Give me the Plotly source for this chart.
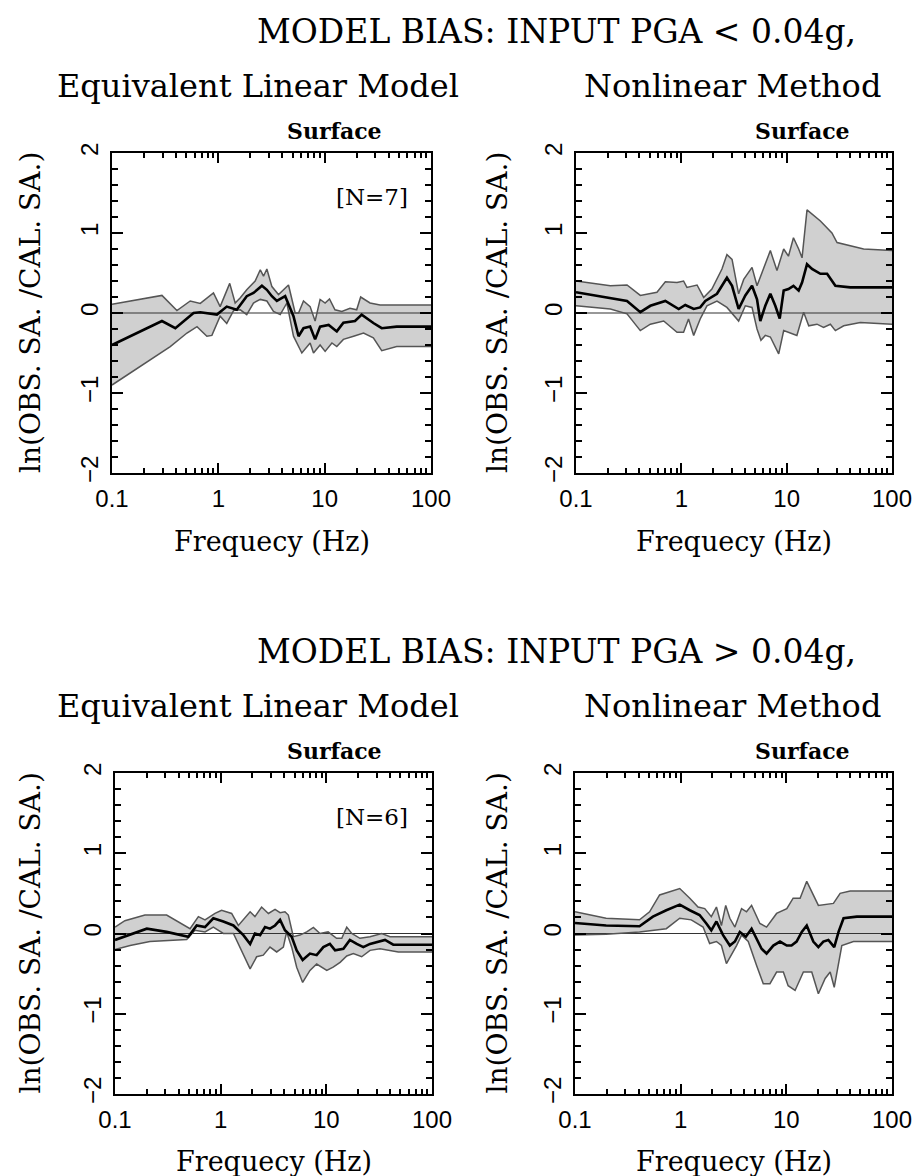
import plotly.graph_objects as go

W, H = 920, 1176

# ---------------- data: ln(obs SA / calc SA) vs frequency (Hz) ----------------
# Equivalent linear model, input PGA < 0.04g
eq_low_mean_f = [0.1, 0.295, 0.394, 0.585, 0.676, 0.97, 1.20, 1.49, 1.85, 2.14, 2.57, 2.86, 3.19, 3.55, 4.25,
                 5.09, 5.68, 6.32, 7.30, 8.13, 9.06, 10.9, 13.0, 15.0, 19.3, 22.3, 28.7, 34.4, 47.6, 100]
eq_low_mean = [-0.40, -0.10, -0.19, 0.0, 0.01, -0.02, 0.08, 0.04, 0.21, 0.25, 0.34, 0.29, 0.21, 0.15, 0.21,
               -0.04, -0.29, -0.19, -0.17, -0.33, -0.17, -0.15, -0.23, -0.12, -0.10, -0.02, -0.125, -0.19, -0.17, -0.17]
eq_low_up_f = [0.1, 0.295, 0.408, 0.544, 0.676, 0.90, 1.04, 1.28, 1.44, 1.61, 1.85, 2.22, 2.48, 2.66, 2.86, 3.19,
               3.68, 4.57, 5.28, 5.68, 6.32, 7.30, 8.13, 9.06, 10.1, 11.1, 12.5, 14.5, 17.3, 20.0, 21.8, 26.7, 33.2, 100]
eq_low_up = [0.11, 0.22, 0.03, 0.15, 0.12, 0.25, 0.08, 0.37, 0.125, 0.19, 0.29, 0.40, 0.54, 0.46, 0.55, 0.33,
             0.23, 0.35, 0.0, 0.0, 0.15, 0.08, -0.10, 0.17, 0.125, 0.175, 0.04, 0.02, 0.06, 0.04, 0.20, 0.125, 0.10, 0.10]
eq_low_lo_f = [0.1, 0.185, 0.353, 0.507, 0.63, 0.78, 0.87, 1.04, 1.20, 1.39, 1.61, 1.85, 2.14, 2.48, 2.86, 3.30,
               3.82, 4.41, 5.09, 6.10, 7.30, 7.85, 9.06, 10.1, 11.7, 13.0, 15.0, 18.7, 23.2, 28.7, 34.4, 47.6, 100]
eq_low_lo = [-0.90, -0.67, -0.42, -0.25, -0.17, -0.29, -0.28, -0.04, -0.13, 0.03, 0.04, -0.02, 0.125, 0.17, 0.15, 0.02,
             -0.02, 0.125, -0.29, -0.50, -0.375, -0.50, -0.40, -0.48, -0.375, -0.42, -0.33, -0.29, -0.25, -0.31, -0.47, -0.42, -0.42]

# Nonlinear method, input PGA < 0.04g
nl_low_mean_f = [0.1, 0.305, 0.408, 0.508, 0.705, 0.944, 1.09, 1.31, 1.51, 1.69, 2.18, 2.71, 3.03, 3.50, 4.05, 4.69,
                 5.23, 5.62, 6.27, 7.00, 7.80, 8.59, 9.37, 10.4, 11.6, 13.0, 14.0, 15.6, 17.4, 20.9, 24.2, 29.0, 40.2, 100]
nl_low_mean = [0.26, 0.15, 0.01, 0.09, 0.15, 0.05, 0.10, 0.05, 0.07, 0.15, 0.24, 0.44, 0.34, 0.05, 0.22, 0.34,
               0.17, -0.10, 0.09, 0.24, 0.09, -0.07, 0.28, 0.30, 0.34, 0.28, 0.38, 0.61, 0.55, 0.49, 0.49, 0.34, 0.32, 0.32]
nl_low_up_f = [0.1, 0.212, 0.305, 0.408, 0.587, 0.705, 0.91, 1.05, 1.13, 1.41, 1.63, 1.95, 2.43, 2.71, 3.03, 3.50,
               3.91, 4.69, 5.23, 5.83, 7.00, 8.09, 9.37, 10.4, 11.6, 13.0, 14.0, 15.6, 20.9, 26.9, 30.1, 53.8, 100]
nl_low_up = [0.40, 0.34, 0.35, 0.22, 0.26, 0.39, 0.38, 0.40, 0.32, 0.35, 0.195, 0.30, 0.55, 0.73, 0.67, 0.24,
             0.42, 0.57, 0.34, 0.51, 0.78, 0.53, 0.80, 0.71, 0.94, 0.80, 0.69, 1.29, 1.15, 1.00, 0.88, 0.80, 0.78]
nl_low_lo_f = [0.1, 0.212, 0.305, 0.408, 0.508, 0.68, 0.91, 1.05, 1.17, 1.31, 1.51, 1.75, 2.18, 2.71, 3.50, 4.05,
               4.69, 5.23, 5.70, 6.27, 7.00, 8.40, 9.37, 10.4, 12.5, 14.5, 16.2, 19.4, 22.4, 26.0, 29.0, 34.8, 50.0, 100]
nl_low_lo = [0.09, 0.05, -0.01, -0.22, -0.14, -0.10, -0.24, -0.24, -0.075, -0.28, -0.075, 0.09, 0.15, 0.07, -0.10, 0.09,
             0.07, -0.20, -0.34, -0.28, -0.30, -0.51, -0.22, -0.24, -0.28, 0.01, -0.16, -0.14, -0.18, -0.14, -0.22, -0.16, -0.12, -0.14]

# Equivalent linear model, input PGA > 0.04g
eq_high_mean_f = [0.1, 0.20, 0.308, 0.494, 0.593, 0.711, 0.852, 1.06, 1.32, 1.64, 1.90, 2.11, 2.36, 2.63, 2.93, 3.27,
                  3.65, 4.06, 4.70, 5.24, 5.97, 7.00, 8.10, 9.37, 10.8, 12.1, 14.5, 16.7, 19.4, 22.4, 25.9, 31.0, 35.9, 43.0, 100]
eq_high_mean = [-0.08, 0.06, 0.02, -0.04, 0.10, 0.08, 0.19, 0.15, 0.10, -0.02, -0.13, 0.0, -0.02, 0.08, 0.06, 0.10,
                0.17, 0.04, -0.04, -0.21, -0.33, -0.25, -0.27, -0.17, -0.13, -0.21, -0.19, -0.08, -0.13, -0.17, -0.13, -0.10, -0.08, -0.14, -0.14]
eq_high_up_f = [0.1, 0.124, 0.192, 0.308, 0.513, 0.615, 0.711, 0.884, 1.02, 1.27, 1.47, 1.64, 1.90, 2.11, 2.44, 2.83,
                3.27, 3.65, 4.06, 4.37, 4.87, 5.63, 6.52, 7.54, 8.71, 10.4, 12.5, 14.0, 15.6, 17.4, 20.8, 25.9, 33.4, 40.1, 100]
eq_high_up = [0.08, 0.16, 0.23, 0.23, 0.06, 0.21, 0.17, 0.25, 0.29, 0.25, 0.10, 0.17, 0.27, 0.21, 0.33, 0.25,
              0.30, 0.26, 0.27, 0.23, -0.04, -0.02, 0.02, 0.075, 0.0, 0.02, -0.06, -0.06, 0.08, 0.0, -0.06, -0.04, 0.0, -0.04, -0.04]
eq_high_lo_f = [0.1, 0.139, 0.214, 0.308, 0.477, 0.571, 0.711, 0.852, 1.06, 1.32, 1.58, 1.90, 2.19, 2.53, 2.93, 3.39,
                3.92, 4.21, 4.70, 5.24, 5.97, 7.00, 8.10, 10.1, 11.6, 13.5, 15.6, 18.0, 21.6, 25.9, 32.2, 40.1, 48.0, 100]
eq_high_lo = [-0.20, -0.15, -0.10, -0.09, -0.075, 0.04, 0.02, 0.08, 0.0, 0.0, -0.21, -0.44, -0.29, -0.27, -0.17, -0.23,
              -0.17, 0.02, -0.17, -0.42, -0.61, -0.46, -0.38, -0.46, -0.42, -0.36, -0.28, -0.25, -0.29, -0.21, -0.19, -0.21, -0.23, -0.23]

# Nonlinear method, input PGA > 0.04g
nl_high_mean_f = [0.1, 0.197, 0.408, 0.546, 0.731, 0.98, 1.22, 1.51, 1.75, 1.95, 2.18, 2.52, 2.92, 3.26, 3.63, 4.14,
                  4.69, 5.23, 5.83, 6.50, 7.53, 8.71, 10.1, 11.2, 12.5, 14.0, 15.6, 18.0, 20.1, 22.4, 25.0, 28.4, 31.2, 34.8, 46.5, 100]
nl_high_mean = [0.13, 0.10, 0.09, 0.21, 0.29, 0.36, 0.29, 0.23, 0.125, 0.04, 0.15, -0.02, -0.15, -0.10, 0.02, -0.04,
                0.06, -0.06, -0.19, -0.25, -0.15, -0.10, -0.15, -0.15, -0.10, 0.02, 0.10, -0.10, -0.17, -0.10, -0.08, -0.17, 0.02, 0.19, 0.21, 0.21]
nl_high_up_f = [0.1, 0.197, 0.408, 0.508, 0.632, 0.759, 0.98, 1.22, 1.46, 1.69, 1.95, 2.18, 2.43, 2.67, 2.92, 3.26,
                3.77, 4.20, 4.69, 5.62, 6.50, 8.09, 10.1, 11.6, 13.5, 15.6, 20.1, 27.9, 32.3, 40.2, 100]
nl_high_up = [0.27, 0.19, 0.17, 0.27, 0.48, 0.51, 0.56, 0.44, 0.33, 0.31, 0.21, 0.33, 0.10, 0.35, 0.19, 0.08,
              0.31, 0.27, 0.35, 0.125, 0.08, 0.25, 0.31, 0.44, 0.44, 0.65, 0.35, 0.375, 0.50, 0.53, 0.53]
nl_high_lo_f = [0.1, 0.197, 0.408, 0.546, 0.731, 0.98, 1.26, 1.63, 1.88, 2.18, 2.43, 2.71, 3.03, 3.38, 3.77, 4.36,
                5.23, 6.05, 7.00, 8.09, 9.37, 10.4, 12.1, 14.5, 17.4, 20.1, 23.3, 26.0, 28.4, 33.5, 43.2, 100]
nl_high_lo = [-0.02, -0.01, 0.02, 0.04, 0.06, 0.19, 0.17, 0.08, -0.125, -0.10, -0.15, -0.375, -0.27, -0.15, -0.02, -0.10,
              -0.40, -0.625, -0.625, -0.48, -0.48, -0.65, -0.71, -0.48, -0.48, -0.75, -0.56, -0.48, -0.67, -0.15, -0.10, -0.10]

# ---------------- text and ticks ----------------
group_titles = ["MODEL BIAS: INPUT PGA &lt; 0.04g,", "MODEL BIAS: INPUT PGA &gt; 0.04g,"]
method_titles = ["Equivalent Linear Model", "Nonlinear Method"]
site_label = "Surface"
count_labels = ["[N=7]", "[N=6]"]
x_title = "Frequecy (Hz)"
y_title = "ln(OBS. SA. /CAL. SA.)"

x_major = [0.1, 1, 10, 100]
x_major_text = ["0.1", "1", "10", "100"]
x_minor = [0.2, 0.3, 0.4, 0.5, 0.6, 0.7, 0.8, 0.9, 2, 3, 4, 5, 6, 7, 8, 9, 20, 30, 40, 50, 60, 70, 80, 90]
y_major = [-2, -1, 0, 1, 2]
y_major_text = ["\u22122", "\u22121", "0", "1", "2"]

# ---------------- layout helpers (pixel boxes -> paper fractions) ----------------
def fx(px):
    return px / W


def fy(py):
    return 1 - py / H


SERIF = "DejaVu Serif"
SANS = "Liberation Sans"

# (left, right, top, bottom) in pixels, one per panel
boxes = [(112, 431, 153, 473), (576, 892, 153, 473),
         (115, 432, 773, 1094), (575, 892, 773, 1094)]

panels = [
    (eq_low_mean_f, eq_low_mean, eq_low_up_f, eq_low_up, eq_low_lo_f, eq_low_lo),
    (nl_low_mean_f, nl_low_mean, nl_low_up_f, nl_low_up, nl_low_lo_f, nl_low_lo),
    (eq_high_mean_f, eq_high_mean, eq_high_up_f, eq_high_up, eq_high_lo_f, eq_high_lo),
    (nl_high_mean_f, nl_high_mean, nl_high_up_f, nl_high_up, nl_high_lo_f, nl_high_lo),
]

fig = go.Figure()
layout = dict(
    width=W, height=H, margin=dict(l=0, r=0, t=0, b=0, autoexpand=False),
    paper_bgcolor="white", plot_bgcolor="white", showlegend=False,
)

BAND_FILL = "#d0d0d0"
BAND_EDGE = "#555555"

for i, (data, box) in enumerate(zip(panels, boxes)):
    mf, mv, uf, uv, lf, lv = data
    sfx = "" if i == 0 else str(i + 1)
    xa, ya = "x" + sfx, "y" + sfx

    # shaded band between upper and lower bounds
    fig.add_trace(go.Scatter(x=uf + lf[::-1], y=uv + lv[::-1], xaxis=xa, yaxis=ya,
                             mode="lines", fill="toself", fillcolor=BAND_FILL,
                             line=dict(width=0, color="rgba(0,0,0,0)"), hoverinfo="skip"))
    # zero reference line
    fig.add_trace(go.Scatter(x=[x_major[0], x_major[-1]], y=[0, 0], xaxis=xa, yaxis=ya,
                             mode="lines", line=dict(color="#333333", width=1.2), hoverinfo="skip"))
    # band edges
    fig.add_trace(go.Scatter(x=uf, y=uv, xaxis=xa, yaxis=ya, mode="lines",
                             line=dict(color=BAND_EDGE, width=1.5)))
    fig.add_trace(go.Scatter(x=lf, y=lv, xaxis=xa, yaxis=ya, mode="lines",
                             line=dict(color=BAND_EDGE, width=1.5)))
    # mean bias
    fig.add_trace(go.Scatter(x=mf, y=mv, xaxis=xa, yaxis=ya, mode="lines",
                             line=dict(color="black", width=2.6)))

    l, r, t, b = box
    layout["xaxis" + sfx] = dict(
        domain=[fx(l), fx(r)], anchor=ya, type="log", range=[-1, 2], automargin=False,
        showline=True, linecolor="black", linewidth=2, mirror="ticks",
        ticks="inside", ticklen=10, tickwidth=1.5, tickcolor="black",
        tickmode="array", tickvals=x_major, ticktext=x_major_text,
        tickfont=dict(family=SANS, size=24, color="black"), ticklabelstandoff=3,
        showgrid=False, zeroline=False, fixedrange=True,
        minor=dict(ticks="inside", ticklen=5, tickwidth=1.5, tickcolor="black",
                   tickmode="array", tickvals=x_minor, showgrid=False),
    )
    layout["yaxis" + sfx] = dict(
        domain=[fy(b), fy(t)], anchor=xa, range=[-2, 2], automargin=False,
        showline=True, linecolor="black", linewidth=2, mirror="ticks",
        ticks="inside", ticklen=11, tickwidth=1.5, tickcolor="black",
        tickmode="array", tickvals=y_major, ticktext=y_major_text, tickangle=-90,
        tickfont=dict(family=SANS, size=24, color="black"), ticklabelstandoff=2,
        showgrid=False, zeroline=False, fixedrange=True,
        minor=dict(ticks="inside", ticklen=6, tickwidth=1.5, tickcolor="black",
                   dtick=0.2, showgrid=False),
    )

annotations = []


def text(s, x, y, size, family=SERIF, angle=0, bold=False):
    annotations.append(dict(
        text=("<b>%s</b>" % s) if bold else s, x=fx(x), y=fy(y), xref="paper", yref="paper",
        showarrow=False, xanchor="center", yanchor="middle", textangle=angle,
        font=dict(family=family, size=size, color="black")))


for row in range(2):
    dy = row * 620
    text(group_titles[row], 556, 31 + dy, 33)
    for col in range(2):
        l, r, t, b = boxes[row * 2 + col]
        cx = (l + r) / 2
        text(method_titles[col], [258, 732][col], 86 + dy, 32)
        text(site_label, [334, 802][col], 131 + dy, 22, bold=True)
        text(x_title, cx, 541 + dy, 27)
        text(y_title, [30, 497][col], (t + b) / 2, 28, angle=-90)
    text(count_labels[row], 372, 197 + dy, 23)

layout["annotations"] = annotations
fig.update_layout(**layout)
fig.write_html("out.html")
